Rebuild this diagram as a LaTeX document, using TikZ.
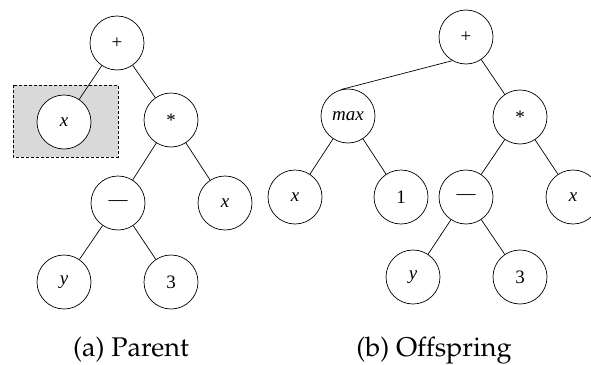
\documentclass[tikz,border=0pt]{standalone}
\usepackage{fontspec}
\newfontfamily\nodefont{Liberation Serif}
\newcommand{\capfont}{\fontencoding{OT1}\fontfamily{ppl}\fontsize{27}{32}\selectfont}
\begin{document}
\begin{tikzpicture}[x=1pt,y=-1pt,
  treenode/.style={circle, draw=black, line width=0.7pt, fill=white,
    minimum size=54pt, inner sep=0pt, font=\nodefont\fontsize{19}{22}\selectfont},
  edge/.style={line width=0.7pt, black},
  caption/.style={anchor=base, inner sep=0pt, font=\capfont}]
\useasboundingbox (0,0) rectangle (591,364);

% highlighted subtree of the parent
\draw[dash pattern=on 3pt off 2pt, line width=0.7pt, fill=black!15] (13,85) rectangle (118,157);

% (a) parent tree
\node[treenode] (p1) at (117,43) {+};
\node[treenode] (a1) at (64,122) {\itshape x};
\node[treenode] (m1) at (171,120) {*};
\node[treenode] (d1) at (118,203) {—};
\node[treenode] (x1) at (225,203) {\itshape x};
\node[treenode] (y1) at (64,282) {\itshape y};
\node[treenode] (t1) at (171,282) {3};
\draw[edge] (p1) -- (a1);
\draw[edge] (p1) -- (m1);
\draw[edge] (m1) -- (d1);
\draw[edge] (m1) -- (x1);
\draw[edge] (d1) -- (y1);
\draw[edge] (d1) -- (t1);

% (b) offspring tree
\node[treenode] (p2) at (466,37) {+};
\node[treenode] (mx) at (348,116) {\itshape max};
\node[treenode] (m2) at (520,117) {*};
\node[treenode] (a2) at (295,197) {\itshape x};
\node[treenode] (o2) at (401,197) {1};
\node[treenode] (d2) at (466,197) {—};
\node[treenode] (x2) at (573,197) {\itshape x};
\node[treenode] (y2) at (413,277) {\itshape y};
\node[treenode] (t2) at (520,277) {3};
\draw[edge] (p2.240) -- (mx.105);
\draw[edge] (p2) -- (m2);
\draw[edge] (mx) -- (a2);
\draw[edge] (mx) -- (o2);
\draw[edge] (m2) -- (d2);
\draw[edge] (m2) -- (x2);
\draw[edge] (d2) -- (y2);
\draw[edge] (d2) -- (t2);

% sub-captions
\node[caption] (capa) at (131,356) {(a)\ Parent};
\node[caption] (capb) at (434,356) {(b)\ Offspring};
\end{tikzpicture}
\end{document}
